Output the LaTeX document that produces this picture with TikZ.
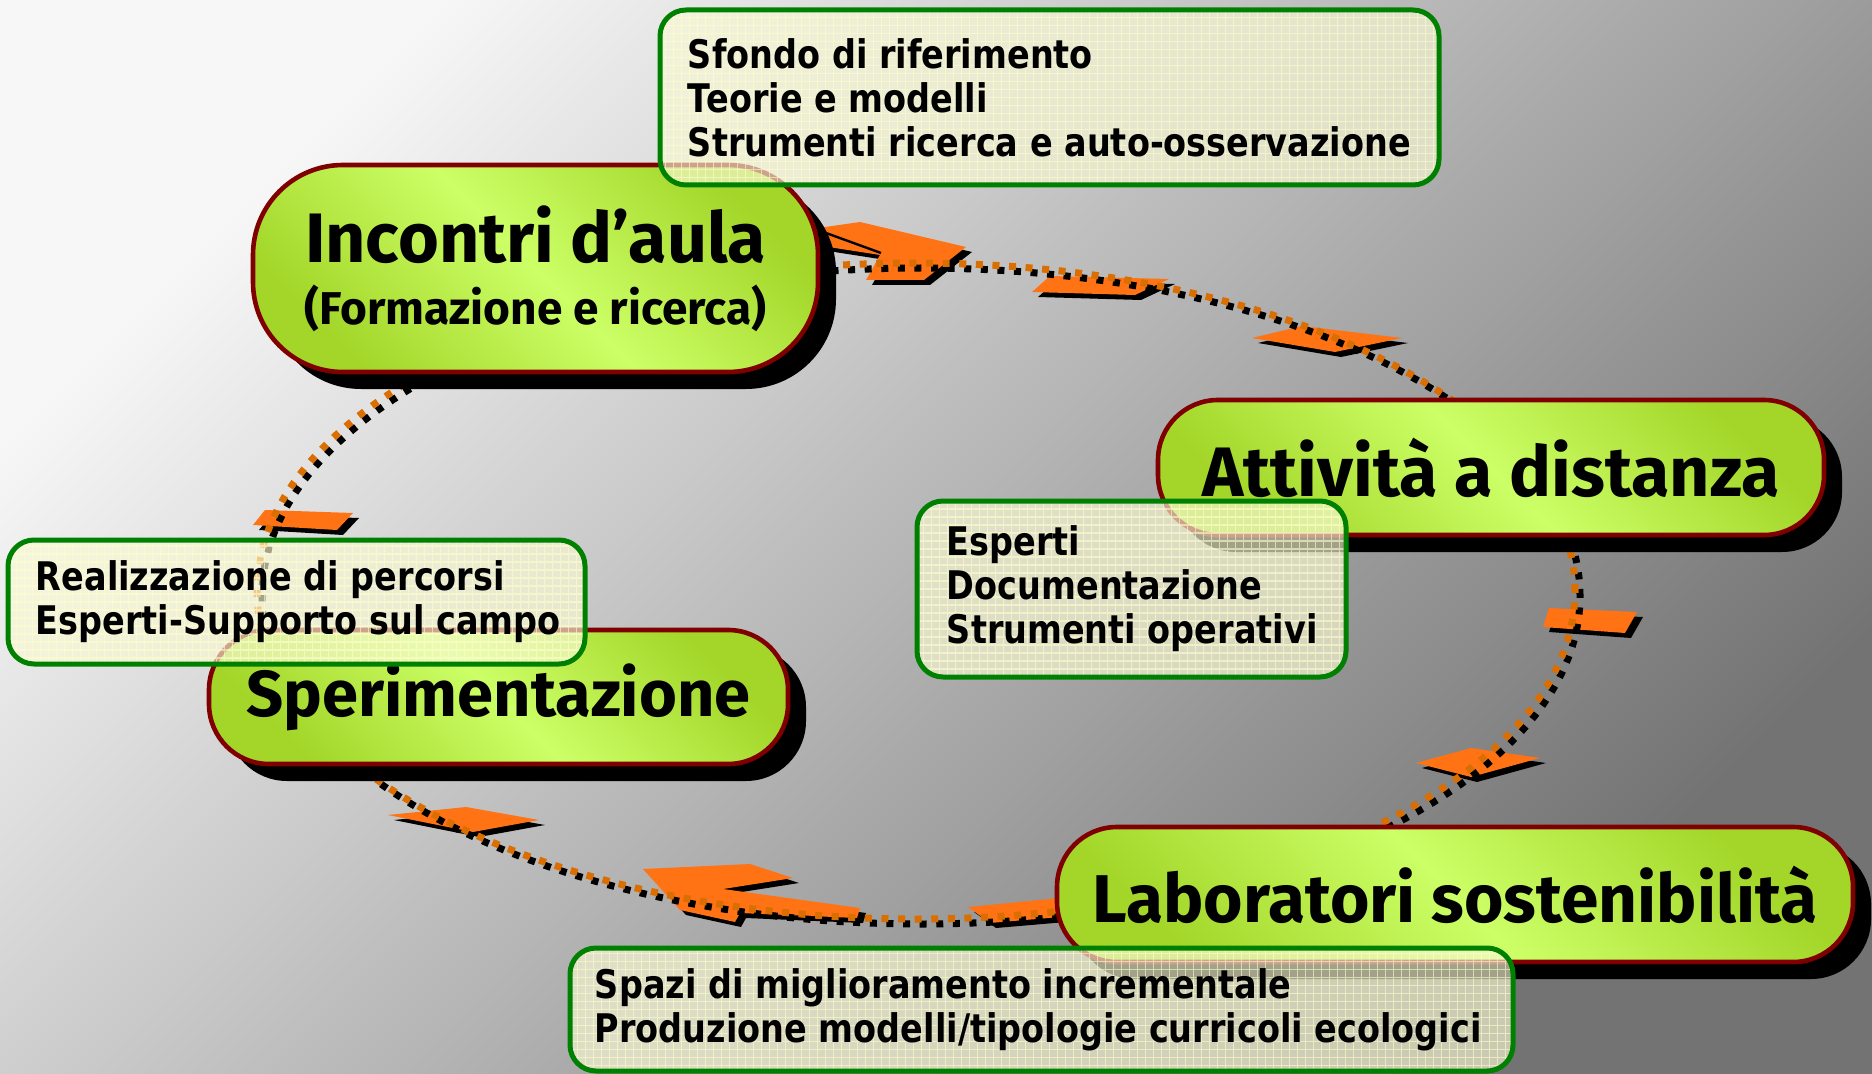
\documentclass[tikz,border=0pt]{standalone}
\usepackage{fontspec}
\newfontfamily\pillfont{Fira Sans}
\newfontfamily\boxfont{DejaVu Sans}[FakeStretch=0.85]
\usetikzlibrary{shadows}

\begin{document}
\begin{tikzpicture}[x=0.5pt,y=0.5pt,
  pill/.style={rectangle, rounded corners=#1, draw=pillRed, line width=2.3pt,
    top color=limeD, bottom color=limeD, middle color=limeL, shading angle=-45,
    drop shadow={shadow xshift=9pt, shadow yshift=-8.5pt, fill=black, draw=none, opacity=1},
    font=\pillfont\bfseries\fontsize{35}{40}\selectfont, align=center, inner sep=0pt},
  infobox/.style={rectangle, rounded corners=13pt, draw=boxGreen, line width=2.5pt,
    fill=boxCream, fill opacity=0.65, inner sep=0pt,
    path picture={\draw[draw=gridCream, line width=0.6pt, draw opacity=0.6]
      (path picture bounding box.south west) grid[step=4pt] (path picture bounding box.north east);}},
  boxtext/.style={anchor=west, align=left, inner sep=0pt,
    font=\boxfont\bfseries\fontsize{19.7}{22}\selectfont},
  arr/.style={fill=arrOrange, preaction={fill=black, transform canvas={xshift=3pt, yshift=-2.5pt}}},
  dotloop/.style={draw=dotOrange, line width=3.5pt, dash pattern=on 3.5pt off 4.8pt,
    preaction={draw=black, line width=3.5pt, dash pattern=on 3.5pt off 4.8pt,
      transform canvas={xshift=2.5pt, yshift=-2.5pt}}}]
\definecolor[named]{bgLight}{rgb}{0.97,0.97,0.97}
\definecolor[named]{bgDark}{rgb}{0.45,0.45,0.45}
\definecolor[named]{arrOrange}{rgb}{1.00,0.45,0.08}
\definecolor[named]{dotOrange}{rgb}{0.86,0.43,0.00}
\definecolor[named]{pillRed}{rgb}{0.50,0.00,0.00}
\definecolor[named]{limeL}{rgb}{0.80,1.00,0.40}
\definecolor[named]{limeD}{rgb}{0.64,0.84,0.16}
\definecolor[named]{boxGreen}{rgb}{0.00,0.50,0.00}
\definecolor[named]{boxCream}{rgb}{0.98,0.98,0.84}
\definecolor[named]{gridCream}{rgb}{1.00,1.00,0.80}

\path[use as bounding box] (0,0) rectangle (1872,1073);
\shade[top color=bgLight, bottom color=bgDark, shading angle=45] (0,0) rectangle (1872,1073);

% arrow heads along the loop
\path[arr] (818,845) -- (860,851) -- (966,826) -- (924,793) -- (866,793) -- (880,818) -- (822,827) -- cycle;
\path[draw=black, line width=1.2pt] (826,840) -- (881,820);
\path[arr] (1032,781) -- (1050,797) -- (1169,794) -- (1135,778) -- cycle;
\path[arr] (1252,735) -- (1302,747) -- (1402,735) -- (1335,721) -- cycle;
\path[arr] (1543,446) -- (1549,465) -- (1637,461) -- (1625,440) -- cycle;
\path[arr] (1416,310) -- (1471,325) -- (1540,315) -- (1471,296) -- cycle;
\path[arr] (968,166) -- (1060,175) -- (1060,156) -- (990,150) -- cycle;
\path[arr] (643,204) -- (750,209) -- (793,195) -- (723,184) -- (860,165) -- (857,155) -- (740,160) -- (735,151) -- (680,163) -- cycle;
\path[arr] (388,258) -- (466,266) -- (539,253) -- (473,241) -- cycle;
\path[arr] (253,548) -- (265,563) -- (353,560) -- (337,543) -- cycle;

% the loop
\coordinate (loopc) at (916,482);
\path[dotloop] (loopc) ellipse [x radius=329.5pt, y radius=164pt];

% phases
\node[pill=45pt, minimum width=282.5pt, minimum height=103.5pt] (incontri) at (535.5,804.5)
  {Incontri d’aula\\[-9pt]{\fontsize{23}{28}\selectfont (Formazione e ricerca)}};
\node[pill=30pt, minimum width=333pt, minimum height=67.5pt] (attivita) at (1491,605.5) {Attività a distanza};
\node[pill=30pt, minimum width=289.5pt, minimum height=67pt] (sperim) at (498.5,376)
  {\fontsize{32.5}{40}\selectfont Sperimentazione};
\node[pill=30pt, minimum width=398pt, minimum height=67.5pt] (laborat) at (1455,178.5)
  {\fontsize{33.8}{40}\selectfont Laboratori sostenibilità};

% notes
\node[infobox, minimum width=389.5pt, minimum height=87.5pt] (sfondo) at (1049.5,975.5) {};
\node[boxtext] (sfondoT) at ([xshift=15pt]sfondo.west)
  {Sfondo di riferimento\\Teorie e modelli\\Strumenti ricerca e auto-osservazione};

\node[infobox, minimum width=214.5pt, minimum height=88pt] (esperti) at (1131.5,484) {};
\node[boxtext] (espertiT) at ([xshift=16pt]esperti.west)
  {Esperti\\Documentazione\\Strumenti operativi};

\node[infobox, minimum width=288.5pt, minimum height=62pt] (percorsi) at (296.5,471) {};
\node[boxtext] (percorsiT) at ([xshift=15pt]percorsi.west)
  {Realizzazione di percorsi\\Esperti-Supporto sul campo};

\node[infobox, minimum width=471.5pt, minimum height=61.5pt] (spazi) at (1041.5,63.5) {};
\node[boxtext] (spaziT) at ([xshift=13.5pt]spazi.west)
  {Spazi di miglioramento incrementale\\Produzione modelli/tipologie curricoli ecologici};
\end{tikzpicture}
\end{document}
